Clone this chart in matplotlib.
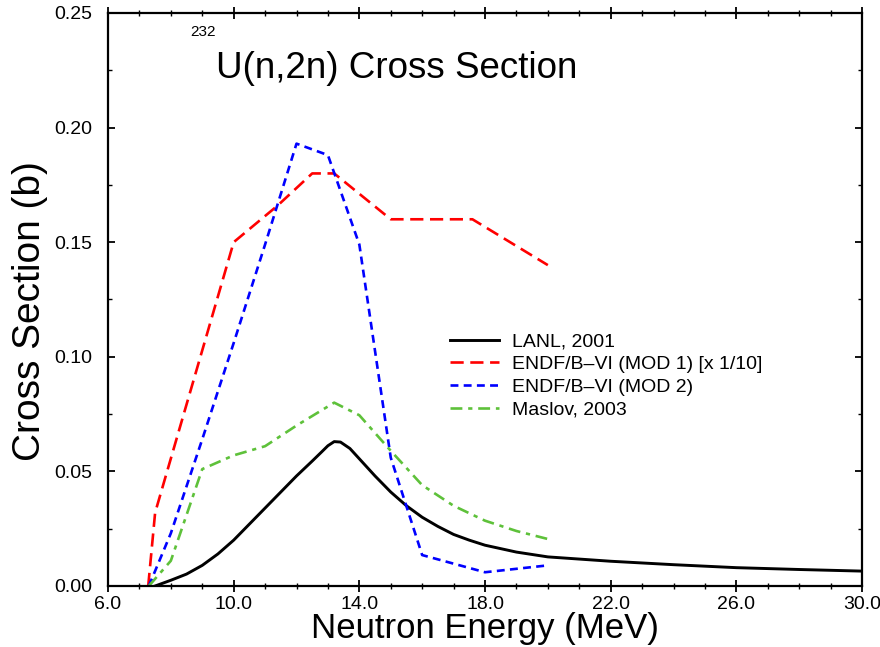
import numpy as np
import matplotlib
matplotlib.use("Agg")
import matplotlib.pyplot as plt
from matplotlib.ticker import FixedLocator, MultipleLocator, FormatStrFormatter

plt.rcParams['font.family'] = ['Liberation Sans', 'DejaVu Sans']

# LANL, 2001 (smooth evaluation)
lanl_e = [7.5, 8.0, 8.5, 9.0, 9.5, 10.0, 10.5, 11.0, 11.5, 12.0, 12.5, 12.8, 13.0, 13.2,
          13.4, 13.7, 14.0, 14.5, 15.0, 15.5, 16.0, 16.5, 17.0, 17.5, 18.0, 19.0, 20.0,
          22.0, 24.0, 26.0, 28.0, 30.0]
lanl_xs = [0.0, 0.0025, 0.0052, 0.009, 0.014, 0.020, 0.027, 0.034, 0.041, 0.048, 0.0545,
           0.0585, 0.0612, 0.0630, 0.0628, 0.060, 0.0555, 0.048, 0.041, 0.035, 0.030,
           0.026, 0.0225, 0.020, 0.0178, 0.0148, 0.0127, 0.0108, 0.0093, 0.0080, 0.0072,
           0.0065]

# ENDF/B-VI (MOD 1), already scaled by 1/10
mod1_e = [7.28, 7.5, 10.0, 11.4, 12.5, 13.2, 15.0, 17.6, 20.0]
mod1_xs = [0.0, 0.032, 0.150, 0.166, 0.180, 0.180, 0.160, 0.160, 0.140]

# ENDF/B-VI (MOD 2)
mod2_e = [7.3, 8.0, 9.0, 10.0, 11.0, 12.0, 13.0, 14.0, 15.0, 16.0, 18.0, 20.0]
mod2_xs = [0.0, 0.023, 0.064, 0.106, 0.149, 0.193, 0.188, 0.149, 0.056, 0.0135, 0.006, 0.009]

# Maslov, 2003
maslov_e = [7.3, 8.0, 9.0, 10.0, 11.0, 12.0, 13.2, 14.0, 15.0, 16.0, 17.0, 18.0, 19.0, 20.0]
maslov_xs = [0.0, 0.011, 0.051, 0.057, 0.061, 0.070, 0.080, 0.0745, 0.059, 0.044, 0.035,
             0.0285, 0.024, 0.0205]

x_major = [6, 10, 14, 18, 22, 26, 30]

fig = plt.figure(figsize=(8.8, 6.47), dpi=100)
ax = fig.add_axes([108 / 880, 1 - 586 / 647, 754 / 880, 573 / 647])

ax.plot(lanl_e, lanl_xs, color='black', lw=2.1, label='LANL, 2001')
ax.plot(mod1_e, mod1_xs, color='#ff0000', lw=1.9, dashes=(5, 2.5),
        label='ENDF/B\u2013VI (MOD 1) [x 1/10]')
ax.plot(mod2_e, mod2_xs, color='#0000ff', lw=1.9, dashes=(3, 2),
        label='ENDF/B\u2013VI (MOD 2)')
ax.plot(maslov_e, maslov_xs, color='#5ec13a', lw=1.9, dashes=(4.5, 2.2, 1.6, 2.2),
        label='Maslov, 2003')

ax.set_xlim(6, 30)
ax.set_ylim(0, 0.25)
ax.xaxis.set_major_locator(FixedLocator(x_major))
ax.xaxis.set_minor_locator(MultipleLocator(1))
ax.yaxis.set_major_locator(MultipleLocator(0.05))
ax.yaxis.set_minor_locator(MultipleLocator(0.025))
ax.xaxis.set_major_formatter(FormatStrFormatter('%.1f'))
ax.yaxis.set_major_formatter(FormatStrFormatter('%.2f'))

ax.tick_params(axis='x', which='both', direction='inout', top=True, labelsize=14, pad=3)
ax.tick_params(axis='x', which='major', length=9, width=1.3)
ax.tick_params(axis='x', which='minor', length=5, width=1.0)
ax.tick_params(axis='y', which='both', direction='in', right=True, labelsize=14, pad=11)
ax.tick_params(axis='y', which='major', length=5, width=1.3)
ax.tick_params(axis='y', which='minor', length=3, width=1.0)
for s in ax.spines.values():
    s.set_linewidth(1.6)

ax.set_xlabel('Neutron Energy (MeV)', fontsize=25)
ax.xaxis.set_label_coords(0.5, -0.046)
ax.set_ylabel('Cross Section (b)', fontsize=28)
ax.yaxis.set_label_coords(-0.080, 0.48)

ax.text(0.1088, 0.9599, '232', transform=ax.transAxes, fontsize=11,
        ha='left', va='baseline')
ax.text(0.1432, 0.8866, 'U(n,2n) Cross Section', transform=ax.transAxes, fontsize=26.5,
        ha='left', va='baseline')

ax.legend(loc='upper left', bbox_to_anchor=(0.4536, 0.4415), frameon=False,
          fontsize=14, borderpad=0, labelspacing=0.26, handlelength=2.5,
          handletextpad=0.7, borderaxespad=0)

plt.savefig('out.png', dpi=100)
